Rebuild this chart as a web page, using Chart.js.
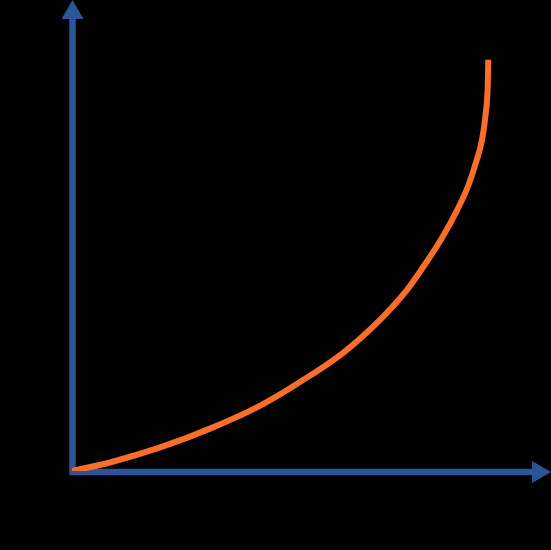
<!DOCTYPE html>
<html>
<head>
<meta charset="utf-8">
<script src="https://cdn.jsdelivr.net/npm/chart.js@4.4.1/dist/chart.umd.min.js"></script>
<style>
  html, body { margin: 0; padding: 0; background: #000; }
  #wrap { width: 551px; height: 550px; }
</style>
</head>
<body>
<div id="wrap"><canvas id="curve"></canvas></div>
<script>
// Curve (x, y in percent of the axes)
const xValues = [0, 7.9, 18.4, 28.8, 39.3, 47.6, 56.6, 64.3, 69.9, 74.3, 77.2, 80.4, 82.7, 84.3, 85.6, 86.4, 86.8, 86.9];
const yValues = [0, 1.8, 5.0, 9.0, 13.9, 18.9, 25.1, 32.1, 38.4, 44.8, 49.4, 55.4, 60.5, 65.4, 70.3, 76.2, 82.0, 87.3];

const axisColor = '#2B5597';
const curveColor = '#F96E2A';

let points = [];
for (let i = 0; i < xValues.length; i++) {
    points.push({ x: xValues[i], y: yValues[i] });
}

// Axes with arrow heads, drawn under the curve
const arrowAxes = {
    id: 'arrowAxes',
    beforeDatasetsDraw(chart) {
        const ctx = chart.ctx;
        const x0 = chart.scales.x.getPixelForValue(0) + 0.5;
        const y0 = chart.scales.y.getPixelForValue(0) + 1;
        const head = 19;
        const half = 11;
        ctx.save();
        ctx.strokeStyle = axisColor;
        ctx.fillStyle = axisColor;
        ctx.lineWidth = 6.5;
        ctx.beginPath();
        ctx.moveTo(x0, y0 + 3);
        ctx.lineTo(x0, head);
        ctx.moveTo(x0 - 3, y0);
        ctx.lineTo(chart.width - head, y0);
        ctx.stroke();
        // vertical arrow
        ctx.beginPath();
        ctx.moveTo(x0, 0);
        ctx.lineTo(x0 + half, head);
        ctx.lineTo(x0 - half, head);
        ctx.closePath();
        ctx.fill();
        // horizontal arrow
        ctx.beginPath();
        ctx.moveTo(chart.width, y0);
        ctx.lineTo(chart.width - head, y0 - half);
        ctx.lineTo(chart.width - head, y0 + half);
        ctx.closePath();
        ctx.fill();
        ctx.restore();
    }
};

let curveChart = new Chart(document.getElementById('curve'), {
    type: 'scatter',
    data: {
        datasets: [{
            data: points,
            showLine: true,
            borderColor: curveColor,
            borderWidth: 6,
            cubicInterpolationMode: 'monotone',
            pointRadius: 0,
            fill: false
        }]
    },
    options: {
        responsive: true,
        maintainAspectRatio: false,
        animation: false,
        layout: {
            padding: { left: 72, right: 0, top: 0, bottom: 79 }
        },
        scales: {
            x: { type: 'linear', min: 0, max: 100, display: false },
            y: { type: 'linear', min: 0, max: 100, display: false }
        },
        plugins: {
            legend: { display: false },
            tooltip: { enabled: false }
        }
    },
    plugins: [arrowAxes]
});
</script>
</body>
</html>
